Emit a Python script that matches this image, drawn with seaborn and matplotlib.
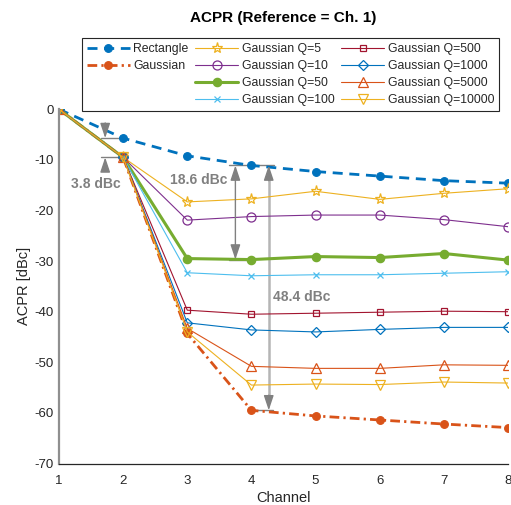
import matplotlib
matplotlib.use("Agg")
import matplotlib.pyplot as plt
from matplotlib.lines import Line2D
import seaborn as sns

# ---- data ----
channels = [1, 2, 3, 4, 5, 6, 7, 8]
rect = [0, -5.7, -9.2, -11.1, -12.3, -13.2, -14.1, -14.6]
gauss = [0, -9.5, -44.3, -59.5, -60.6, -61.4, -62.2, -62.9]
q5 = [0, -9.5, -18.3, -17.7, -16.2, -17.8, -16.6, -15.7]
q10 = [0, -9.5, -21.9, -21.2, -20.9, -20.9, -21.8, -23.2]
q50 = [0, -9.5, -29.5, -29.7, -29.1, -29.3, -28.5, -29.8]
q100 = [0, -9.5, -32.3, -32.9, -32.7, -32.7, -32.4, -32.1]
q500 = [0, -9.5, -39.7, -40.5, -40.3, -40.1, -39.9, -40.0]
q1000 = [0, -9.5, -42.2, -43.6, -44.0, -43.5, -43.1, -43.1]
q5000 = [0, -9.5, -43.3, -50.8, -51.2, -51.2, -50.5, -50.6]
q10000 = [0, -9.5, -44.0, -54.5, -54.3, -54.4, -53.9, -54.1]
yticks = [-70, -60, -50, -40, -30, -20, -10, 0]

sns.set_style("white")
plt.rcParams['font.family'] = ['Liberation Sans', 'DejaVu Sans']
plt.rcParams['axes.unicode_minus'] = False

fig = plt.figure(figsize=(5.11, 5.05), dpi=100)
ax = fig.add_axes([59 / 511, 41.5 / 505, 449 / 511, 354.2 / 505])

BLUE = '#0072BD'
ORANGE = '#D95319'
YELLOW = '#EDB120'
PURPLE = '#7E2F8E'
GREEN = '#77AC30'
LBLUE = '#4DBEEE'
DRED = '#A2142F'

series = [
    (rect, 'Rectangle', dict(color=BLUE, linestyle=(0, (3.6, 2.4)), linewidth=2.0,
                             marker='o', markersize=5.5, markerfacecolor=BLUE, markeredgecolor=BLUE)),
    (gauss, 'Gaussian', dict(color=ORANGE, linestyle=(0, (3.5, 1.5, 0.8, 1.5)), linewidth=2.0,
                             marker='o', markersize=5.5, markerfacecolor=ORANGE, markeredgecolor=ORANGE)),
    (q5, 'Gaussian Q=5', dict(color=YELLOW, linewidth=0.8, marker='*', markersize=8,
                              markerfacecolor='none', markeredgecolor=YELLOW)),
    (q10, 'Gaussian Q=10', dict(color=PURPLE, linewidth=0.8, marker='o', markersize=6.5,
                                markerfacecolor='none', markeredgecolor=PURPLE)),
    (q50, 'Gaussian Q=50', dict(color=GREEN, linewidth=2.2, marker='o', markersize=6,
                                markerfacecolor=GREEN, markeredgecolor=GREEN)),
    (q100, 'Gaussian Q=100', dict(color=LBLUE, linewidth=0.8, marker='x', markersize=5,
                                  markerfacecolor='none', markeredgecolor=LBLUE)),
    (q500, 'Gaussian Q=500', dict(color=DRED, linewidth=0.8, marker='s', markersize=5,
                                  markerfacecolor='none', markeredgecolor=DRED)),
    (q1000, 'Gaussian Q=1000', dict(color=BLUE, linewidth=0.8, marker='D', markersize=5.5,
                                    markerfacecolor='none', markeredgecolor=BLUE)),
    (q5000, 'Gaussian Q=5000', dict(color=ORANGE, linewidth=0.8, marker='^', markersize=7,
                                    markerfacecolor='none', markeredgecolor=ORANGE)),
    (q10000, 'Gaussian Q=10000', dict(color=YELLOW, linewidth=0.8, marker='v', markersize=7,
                                      markerfacecolor='none', markeredgecolor=YELLOW)),
]

handles = {}
for vals, name, kw in series:
    sns.lineplot(x=channels, y=vals, ax=ax, markeredgewidth=0.9, label=name, **kw)
    handles[name] = ax.lines[-1]
for ln in handles.values():
    ln.set_clip_on(True)

ax.set_xlim(1, 8)
ax.set_ylim(-70, 0)
ax.set_xticks(channels)
ax.set_yticks(yticks)
ax.tick_params(direction='in', length=4, labelsize=9.5, colors='#262626', width=0.8)
ax.tick_params(axis='x', pad=8)
ax.tick_params(axis='y', pad=4)
ax.spines['top'].set_visible(False)
ax.spines['right'].set_visible(False)
ax.spines['bottom'].set_color('#262626')
ax.spines['bottom'].set_linewidth(0.9)
ax.spines['left'].set_color('#8f8f8f')
ax.spines['left'].set_linewidth(1.6)

ax.set_xlabel('Channel', fontsize=10.5, color='#262626')
ax.xaxis.set_label_coords(0.5, -0.097)
ax.xaxis.label.set_verticalalignment('center')
ax.set_ylabel('ACPR [dBc]', fontsize=10.5, color='#262626')
ax.yaxis.set_label_coords(-0.078, 0.5)
ax.yaxis.label.set_verticalalignment('center')

fig.text(283.5 / 511, 1 - 18 / 505, 'ACPR (Reference = Ch. 1)', ha='center', va='center',
         fontsize=11, fontweight='bold', color='black')

# ---- annotations ----
GRAY = '#808080'
LGRAY = '#b5b5b5'
head = dict(arrowstyle='-|>,head_length=0.9,head_width=0.3', color=GRAY, lw=1.0,
            shrinkA=0, shrinkB=0)
# 3.8 dBc
xa = 1.72
ax.plot([1.66, 2.0], [rect[1], rect[1]], color=GRAY, lw=1.0, zorder=1)
ax.plot([1.66, 2.0], [gauss[1], gauss[1]], color=GRAY, lw=1.0, zorder=1)
ax.annotate('', xy=(xa, rect[1]), xytext=(xa, rect[1] + 3.0), arrowprops=head)
ax.annotate('', xy=(xa, gauss[1]), xytext=(xa, gauss[1] - 2.6), arrowprops=head)
ax.text(1.58, -14.8, '3.8 dBc', ha='center', va='center', fontsize=10,
        fontweight='bold', color=GRAY)
# 18.6 dBc
xb = 3.75
ax.plot([3.65, 4.35], [rect[3], rect[3]], color=GRAY, lw=1.0, zorder=1)
ax.plot([3.65, 4.0], [q50[3], q50[3]], color=GRAY, lw=1.0, zorder=1)
ax.annotate('', xy=(xb, rect[3]), xytext=(xb, q50[3]),
            arrowprops=dict(arrowstyle='<|-|>,head_length=0.9,head_width=0.3', color=GRAY,
                            lw=1.0, shrinkA=0, shrinkB=0))
ax.text(3.63, -14.0, '18.6 dBc', ha='right', va='center', fontsize=10,
        fontweight='bold', color=GRAY)
# 48.4 dBc
xc = 4.27
ax.plot([4.0, 4.33], [gauss[3], gauss[3]], color=GRAY, lw=1.0, zorder=1)
ax.plot([xc, xc], [rect[3] - 2, gauss[3] + 2], color=LGRAY, lw=1.8, zorder=1)
ax.annotate('', xy=(xc, rect[3]), xytext=(xc, rect[3] - 3.0), arrowprops=head)
ax.annotate('', xy=(xc, gauss[3]), xytext=(xc, gauss[3] + 3.0), arrowprops=head)
ax.text(4.34, -37.0, '48.4 dBc', ha='left', va='center', fontsize=10,
        fontweight='bold', color=GRAY)

# ---- legend ----
blank = Line2D([], [], color='none', label='')
order = ['Rectangle', 'Gaussian', None, None,
         'Gaussian Q=5', 'Gaussian Q=10', 'Gaussian Q=50', 'Gaussian Q=100',
         'Gaussian Q=500', 'Gaussian Q=1000', 'Gaussian Q=5000', 'Gaussian Q=10000']
hs = [handles[o] if o else blank for o in order]
ls = [o if o else '' for o in order]
leg = ax.legend(hs, ls, ncol=3, loc='upper left',
                bbox_to_anchor=(82 / 511, 1 - 38 / 505), bbox_transform=fig.transFigure,
                fontsize=8.8, frameon=True, fancybox=False, framealpha=1,
                edgecolor='#262626', handlelength=3.5, handletextpad=0.3,
                columnspacing=0.55, labelspacing=0.42, borderpad=0.4, borderaxespad=0)
leg.get_frame().set_linewidth(0.8)

fig.savefig('out.png', dpi=100)
